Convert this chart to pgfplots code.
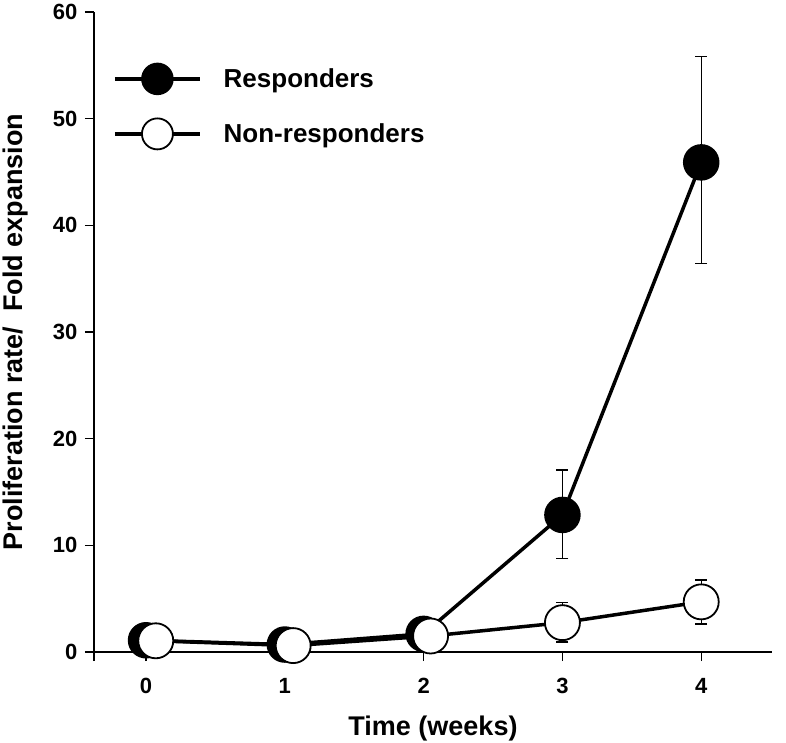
\documentclass[border=0pt]{standalone}
\usepackage{pgfplots}
\pgfplotsset{compat=1.18}
\usepackage{fontspec}
\setmainfont{Liberation Sans}
\pgfplotstableread{
x y ep em
0 1.1 0 0
1 0.7 0 0
2 1.7 0 0
3 12.85 4.2 4.1
4 45.9 9.9 9.5
}\resp
\pgfplotstableread{
x y ep em
0.07 1.05 0 0
1.06 0.6 0 0
2.05 1.5 0 0
3 2.75 1.87 1.81
4 4.7 2.05 2.08
}\nonresp
\begin{document}
\begin{tikzpicture}
\begin{axis}[
  scale only axis, width=678pt, height=640pt,
  xmin=-0.375, xmax=4.51, ymin=0, ymax=60,
  clip=false,
  axis x line=bottom, axis y line=left,
  axis line style={-, line width=1.4pt, black},
  xtick={-0.375,0,1,2,3,4}, xticklabels={,0,1,2,3,4},
  ytick={0,10,20,30,40,50,60},
  tick align=outside, major tick length=9pt,
  tick style={line width=1.4pt, black},
  /pgf/number format/assume math mode=true,
  tick label style={font=\fontsize{22}{26}\selectfont\bfseries},
  xticklabel style={yshift=-14pt},
  yticklabel style={xshift=-4pt},
  label style={font=\fontsize{27}{32}\selectfont\bfseries},
  xlabel={Time (weeks)},
  ylabel={Proliferation rate/\ \ Fold expansion},
  xlabel style={at={(axis description cs:0.5,0)}, anchor=base, yshift=-83pt},
  ylabel style={at={(axis description cs:-0.092,0.5)}, anchor=south},
  legend style={draw=none, fill=none, inner sep=0pt,
    at={(axis description cs:0.028,0.92)}, anchor=north west,
    font=\fontsize{26}{30}\selectfont\bfseries, row sep=24pt,
    /tikz/every odd column/.append style={column sep=20pt}},
  legend cell align=left,
  legend image code/.code={\draw[mark repeat=2, mark phase=2, #1, mark size=15.5pt] plot coordinates {(0pt,0pt) (42.5pt,0pt) (85pt,0pt)};},
]
% error bars (drawn beneath markers)
\addplot[draw=none, forget plot, mark=none,
  error bars/.cd, y dir=both, y explicit,
  error bar style={line width=1.4pt, black},
  error mark options={rotate=90, mark size=6pt, line width=1.4pt, black}]
  table[x=x, y=y, y error plus=ep, y error minus=em] {\resp};
\addplot[draw=none, forget plot, mark=none,
  error bars/.cd, y dir=both, y explicit,
  error bar style={line width=1.4pt, black},
  error mark options={rotate=90, mark size=6pt, line width=1.4pt, black}]
  table[x=x, y=y, y error plus=ep, y error minus=em] {\nonresp};
% series
\addplot[black, line width=3.5pt, mark=*, mark size=17.5pt,
  mark options={solid, fill=black, draw=black, line width=1.5pt}]
  table[x=x, y=y] {\resp};
\addlegendentry{Responders}
\addplot[black, line width=3.5pt, mark=*, mark size=17.5pt,
  mark options={solid, fill=white, draw=black, line width=1.8pt}]
  table[x=x, y=y] {\nonresp};
\addlegendentry{Non-responders}
\end{axis}
\pgfresetboundingbox
\path[use as bounding box] (-94pt,-91pt) rectangle (692pt,652pt);
\end{tikzpicture}
\end{document}
